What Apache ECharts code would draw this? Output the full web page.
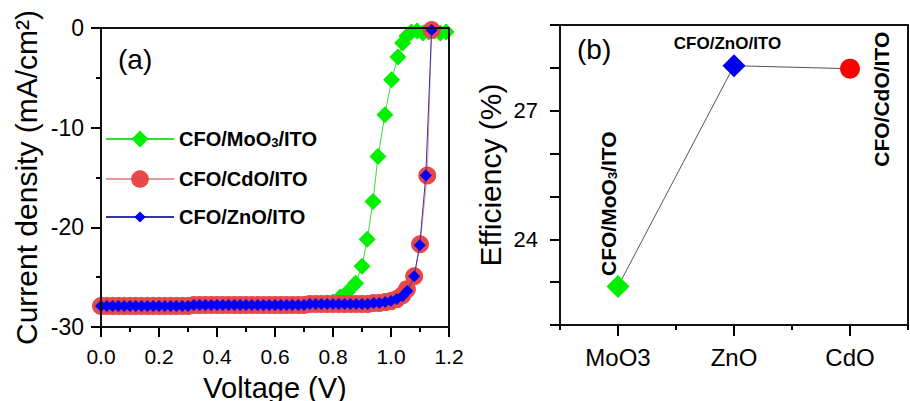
<!DOCTYPE html>
<html>
<head>
<meta charset="utf-8">
<script src="https://cdn.jsdelivr.net/npm/echarts@6/dist/echarts.min.js"></script>
<style>
html,body{margin:0;padding:0;background:#fff;}
#chart{width:910px;height:401px;}
</style>
</head>
<body>
<div id="chart"></div>
<script>
// ---------- DATA ----------
const seriesNames = ['CFO/MoO3/ITO', 'CFO/CdO/ITO', 'CFO/ZnO/ITO'];

const moo3V = [0.00,0.02,0.04,0.06,0.08,0.10,0.12,0.14,0.16,0.18,0.20,0.22,0.24,0.26,0.28,0.30,0.32,0.34,0.36,0.38,0.40,0.42,0.44,0.46,0.48,0.50,0.52,0.54,0.56,0.58,0.60,0.62,0.64,0.66,0.68,0.70,0.72,0.74,0.76,0.78,0.80,
  0.825,0.85,0.878,0.90,0.918,0.938,0.955,0.979,1.002,1.024,1.040,1.055,1.07,1.09,1.11,1.13,1.15,1.17,1.19];
const moo3J = [-27.8,-27.8,-27.8,-27.8,-27.8,-27.8,-27.8,-27.8,-27.8,-27.8,-27.8,-27.8,-27.8,-27.8,-27.8,-27.8,-27.8,-27.8,-27.8,-27.8,-27.8,-27.8,-27.8,-27.8,-27.8,-27.8,-27.8,-27.8,-27.8,-27.8,-27.8,-27.8,-27.8,-27.8,-27.8,-27.7,-27.7,-27.7,-27.7,-27.6,-27.5,
  -27.0,-26.5,-25.6,-23.9,-21.2,-17.4,-12.9,-8.7,-5.2,-2.9,-1.5,-0.8,-0.4,-0.3,-0.5,-0.4,-0.3,-0.5,-0.4];

const cdoV = [0.00,0.02,0.04,0.06,0.08,0.10,0.12,0.14,0.16,0.18,0.20,0.22,0.24,0.26,0.28,0.30,0.32,0.34,0.36,0.38,0.40,0.42,0.44,0.46,0.48,0.50,0.52,0.54,0.56,0.58,0.60,0.62,0.64,0.66,0.68,0.70,0.72,0.74,0.76,0.78,0.80,0.82,0.84,0.86,0.88,0.90,0.92,0.94,0.96,0.98,1.00,
  1.02,1.04,1.055,1.08,1.10,1.125,1.14];
const cdoJ = [-27.9,-27.9,-27.9,-27.9,-27.9,-27.9,-27.9,-27.9,-27.9,-27.9,-27.9,-27.9,-27.9,-27.9,-27.9,-27.9,-27.8,-27.8,-27.8,-27.8,-27.8,-27.8,-27.8,-27.8,-27.8,-27.8,-27.8,-27.8,-27.8,-27.8,-27.8,-27.8,-27.8,-27.8,-27.8,-27.8,-27.7,-27.7,-27.7,-27.7,-27.7,-27.7,-27.7,-27.7,-27.7,-27.7,-27.7,-27.6,-27.6,-27.5,-27.4,
  -27.2,-26.8,-26.2,-24.9,-21.7,-14.8,-0.2];

const znoV = [0.00,0.02,0.04,0.06,0.08,0.10,0.12,0.14,0.16,0.18,0.20,0.22,0.24,0.26,0.28,0.30,0.32,0.34,0.36,0.38,0.40,0.42,0.44,0.46,0.48,0.50,0.52,0.54,0.56,0.58,0.60,0.62,0.64,0.66,0.68,0.70,0.72,0.74,0.76,0.78,0.80,0.82,0.84,0.86,0.88,0.90,0.92,0.94,0.96,0.98,1.00,
  1.02,1.04,1.056,1.08,1.099,1.12,1.14];
const znoJ = [-27.9,-27.9,-27.9,-27.9,-27.9,-27.9,-27.9,-27.9,-27.9,-27.9,-27.9,-27.9,-27.9,-27.9,-27.9,-27.9,-27.8,-27.8,-27.8,-27.8,-27.8,-27.8,-27.8,-27.8,-27.8,-27.8,-27.8,-27.8,-27.8,-27.8,-27.8,-27.8,-27.8,-27.8,-27.8,-27.8,-27.7,-27.7,-27.7,-27.7,-27.7,-27.7,-27.7,-27.7,-27.7,-27.7,-27.7,-27.6,-27.6,-27.5,-27.4,
  -27.2,-26.9,-26.4,-24.9,-21.8,-14.8,-0.2];

const materials = ['MoO3', 'ZnO', 'CdO'];
const efficiency = [22.9, 28.05, 27.98];
const effLabels = ['CFO/MoO3/ITO', 'CFO/ZnO/ITO', 'CFO/CdO/ITO'];

const voltageTicks = ['0.0','0.2','0.4','0.6','0.8','1.0','1.2'];
const effTickLabels = [24, 27];

// axis ranges
const voltRange = [0, 1.2];
const jRange = [-30, 0];
const effRange = [22, 29];
const unitRange = [0, 1];

// ---------- STYLE ----------
const FONT = "'Liberation Sans', Arial, sans-serif";
const INK = '#111111';
const pairs = (xs, ys) => xs.map((x, i) => [x, ys[i]]);
const richName = s => s.indexOf('MoO3') >= 0 ? '{a|CFO/MoO}{s|3}{a|/ITO}' : '{a|' + s + '}';
const frameOf = (xr, yr) => [[xr[0], yr[0]], [xr[0], yr[1]], [xr[1], yr[1]], [xr[1], yr[0]], [xr[0], yr[0]]];

function axisLine() {
  return {show: true, onZero: false, lineStyle: {color: INK, width: 2}};
}
function axisTick(len, align) {
  return {show: true, inside: false, length: len, alignWithLabel: !!align, lineStyle: {color: '#000000', width: 2}};
}

const chart = echarts.init(document.getElementById('chart'), null, {renderer: 'svg'});

function legendItem(name, top, itemHeight) {
  return {
    data: [name], orient: 'vertical', left: 105, top: top, padding: 0,
    itemWidth: 68, itemHeight: itemHeight, itemGap: 0, selectedMode: false,
    textStyle: {
      color: '#000', fontFamily: FONT, fontWeight: 'bold', fontSize: 20,
      rich: {
        a: {fontFamily: FONT, fontWeight: 'bold', fontSize: 20, lineHeight: 20, color: '#000'},
        s: {fontFamily: FONT, fontWeight: 'bold', fontSize: 13, lineHeight: 6, verticalAlign: 'bottom', color: '#000'}
      }
    },
    formatter: richName
  };
}

const effStyles = [
  {symbol: 'diamond', symbolSize: 23, color: '#00EE00',
   label: {rotate: 90, align: 'left', verticalAlign: 'middle', position: [2, 1], fontSize: 21}},
  {symbol: 'diamond', symbolSize: 23, color: '#0000EE',
   label: {rotate: 0, align: 'center', verticalAlign: 'middle', position: [5, -11], fontSize: 17}},
  {symbol: 'circle', symbolSize: 20, color: '#FF0000',
   label: {rotate: 90, align: 'left', verticalAlign: 'middle', position: [41, 108], fontSize: 21}}
];

const effData = efficiency.map((v, i) => ({
  value: v,
  symbol: effStyles[i].symbol,
  symbolSize: effStyles[i].symbolSize,
  itemStyle: {color: effStyles[i].color},
  label: Object.assign({
    show: true, color: '#000', fontFamily: FONT, fontWeight: 'bold',
    formatter: () => richName(effLabels[i]),
    rich: {
      a: {fontFamily: FONT, fontWeight: 'bold', fontSize: effStyles[i].label.fontSize, lineHeight: effStyles[i].label.fontSize, color: '#000'},
      s: {fontFamily: FONT, fontWeight: 'bold', fontSize: 13, lineHeight: 6, verticalAlign: 'bottom', color: '#000'}
    }
  }, effStyles[i].label)
}));

const frameSeries = (xi, yi, data) => ({
  type: 'line', xAxisIndex: xi, yAxisIndex: yi, data: data, symbol: 'none',
  clip: false, silent: true, z: 12, legendHoverLink: false,
  lineStyle: {color: INK, width: 2}, tooltip: {show: false}
});

const option = {
  animation: false,
  title: [
    {text: '(a)', left: 118, top: 45, padding: 0, textStyle: {fontFamily: FONT, fontWeight: 'normal', fontSize: 28, color: '#000'}},
    {text: '(b)', left: 577, top: 35, padding: 0, textStyle: {fontFamily: FONT, fontWeight: 'normal', fontSize: 28, color: '#000'}}
  ],
  legend: [
    legendItem(seriesNames[0], 129, 21),
    legendItem(seriesNames[1], 169, 22),
    legendItem(seriesNames[2], 207, 14)
  ],
  grid: [
    {left: 101, right: 461, top: 28, bottom: 74, show: true, borderColor: INK, borderWidth: 2, outerBoundsMode: 'none', containLabel: false},
    {left: 560, right: 2, top: 25, bottom: 76, show: true, borderColor: INK, borderWidth: 2, outerBoundsMode: 'none', containLabel: false}
  ],
  xAxis: [
    {
      gridIndex: 0, type: 'value', min: voltRange[0], max: voltRange[1], interval: 0.2, position: 'bottom', z: 10,
      axisLine: axisLine(), axisTick: axisTick(10), splitLine: {show: false},
      minorTick: {show: true, splitNumber: 2, length: 5, lineStyle: {color: '#000', width: 2}},
      axisLabel: {color: '#000', fontFamily: FONT, fontSize: 21, margin: 19,
        formatter: v => voltageTicks[Math.round(v / 0.2)]},
      name: 'Voltage (V)', nameLocation: 'middle', nameGap: 46, nameMoveOverlap: false,
      nameTextStyle: {color: '#000', fontFamily: FONT, fontSize: 29}
    },
    {
      gridIndex: 1, type: 'category', data: materials, boundaryGap: true, position: 'bottom', z: 10,
      axisLine: axisLine(), axisTick: axisTick(11, true), splitLine: {show: false},
      axisLabel: {color: '#000', fontFamily: FONT, fontSize: 24, margin: 20}
    },
    {
      gridIndex: 1, type: 'category', data: materials, boundaryGap: true, position: 'bottom', z: 10,
      axisLine: axisLine(), axisTick: axisTick(5, false), splitLine: {show: false},
      axisLabel: {show: false}
    },
    {
      gridIndex: 1, type: 'value', min: unitRange[0], max: unitRange[1], show: false
    }
  ],
  yAxis: [
    {
      gridIndex: 0, type: 'value', min: jRange[0], max: jRange[1], interval: 10, position: 'left', z: 10,
      axisLine: axisLine(), axisTick: axisTick(10), splitLine: {show: false},
      minorTick: {show: true, splitNumber: 2, length: 5, lineStyle: {color: '#000', width: 2}},
      axisLabel: {color: '#000', fontFamily: FONT, fontSize: 23, margin: 17},
      name: 'Current density (mA/cm²)', nameLocation: 'middle', nameGap: 60, nameRotate: 90, nameMoveOverlap: false,
      nameTextStyle: {color: '#000', fontFamily: FONT, fontSize: 30}
    },
    {
      gridIndex: 1, type: 'value', min: effRange[0], max: effRange[1], interval: 1, position: 'left', z: 10,
      axisLine: axisLine(), axisTick: axisTick(10), splitLine: {show: false},
      axisLabel: {color: '#000', fontFamily: FONT, fontSize: 22, margin: 22,
        formatter: v => effTickLabels.indexOf(v) >= 0 ? String(v) : ''},
      name: 'Efficiency (%)', nameLocation: 'middle', nameGap: 55, nameRotate: 90, nameMoveOverlap: false,
      nameTextStyle: {color: '#000', fontFamily: FONT, fontSize: 30}
    }
  ],
  series: [
    {
      name: seriesNames[0], type: 'line', xAxisIndex: 0, yAxisIndex: 0,
      data: pairs(moo3V, moo3J), symbol: 'diamond', symbolSize: 17, showAllSymbol: true,
      itemStyle: {color: '#00F000'}, lineStyle: {color: '#33DD33', width: 1}, z: 2
    },
    {
      name: seriesNames[1], type: 'line', xAxisIndex: 0, yAxisIndex: 0,
      data: pairs(cdoV, cdoJ), symbol: 'circle', symbolSize: 18, showAllSymbol: true,
      itemStyle: {color: '#E84848'}, lineStyle: {color: '#E09A9A', width: 1}, z: 3
    },
    {
      name: seriesNames[2], type: 'line', xAxisIndex: 0, yAxisIndex: 0,
      data: pairs(znoV, znoJ), symbol: 'diamond', symbolSize: 12, showAllSymbol: true,
      itemStyle: {color: '#0000FF'}, lineStyle: {color: '#3535A5', width: 1}, z: 4
    },
    {
      name: 'Efficiency', type: 'line', xAxisIndex: 1, yAxisIndex: 1,
      data: effData, showAllSymbol: true,
      lineStyle: {color: '#555', width: 1}, z: 3
    },
    frameSeries(0, 0, frameOf(voltRange, jRange)),
    frameSeries(3, 1, frameOf(unitRange, effRange))
  ]
};
chart.setOption(option);
</script>
</body>
</html>
